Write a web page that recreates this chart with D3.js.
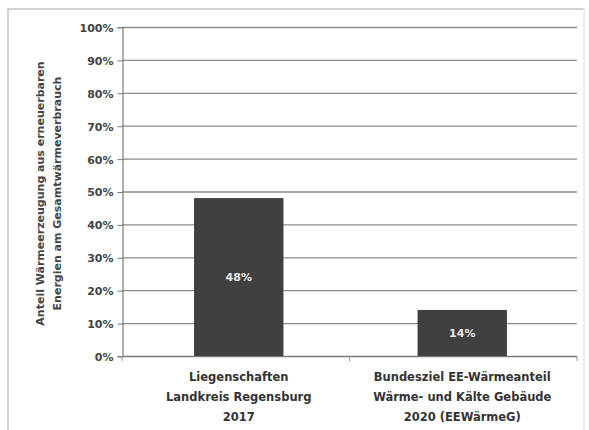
<!DOCTYPE html>
<html><head><meta charset="utf-8">
<script src="https://cdn.jsdelivr.net/npm/d3@7"></script>
<style>body{margin:0;background:#fff;} svg{display:block;}</style>
</head><body>
<svg id="c" width="589" height="430"></svg>
<script>
const categories = [
  ["Liegenschaften", "Landkreis Regensburg", "2017"],
  ["Bundesziel EE-Wärmeanteil", "Wärme- und Kälte Gebäude", "2020 (EEWärmeG)"]
];
const values = [0.48, 0.14];
const valueLabels = ["48%", "14%"];
const yTicks = [0,0.1,0.2,0.3,0.4,0.5,0.6,0.7,0.8,0.9,1.0];
const yTitle = ["Anteil Wärmeerzeugung aus erneuerbaren", "Energien am Gesamtwärmeverbrauch"];

const svg = d3.select("#c");
const font = "'DejaVu Sans', sans-serif";
const L = 122, R = 577, T = 27, B = 356;

svg.append("rect").attr("x",8).attr("y",9).attr("width",576).attr("height",440)
  .attr("fill","#fff").attr("stroke","#c4c4c4").attr("stroke-width",1.5);
svg.append("line").attr("x1",584).attr("x2",584).attr("y1",9).attr("y2",430).attr("stroke","#ececec").attr("stroke-width",2);

const x = d3.scaleBand().domain(d3.range(categories.length)).range([127,574]).paddingInner(0.6).paddingOuter(0.3);
const y = d3.scaleLinear().domain([0,1]).range([B,T]);

// gridlines
svg.append("g").selectAll("line").data(yTicks.filter(d=>d>0)).join("line")
  .attr("x1",L).attr("x2",R).attr("y1",d=>y(d)+0.5).attr("y2",d=>y(d)+0.5)
  .attr("stroke","#8c8c8c").attr("stroke-width",1.3);

// y axis
const ya = svg.append("g").attr("transform",`translate(${L+0.5},0)`)
  .call(d3.axisLeft(y).tickValues(yTicks).tickFormat(d3.format(".0%")).tickSize(5).tickPadding(4));
ya.select(".domain").attr("stroke","#7a7a7a").attr("stroke-width",1.2);
ya.selectAll(".tick line").attr("stroke","#7a7a7a").attr("transform","translate(0,0.5)");
ya.selectAll("text").attr("font-family",font).attr("font-size",11).attr("font-weight","bold").attr("fill","#444").attr("dy","0.4em");

// x axis
svg.append("line").attr("x1",L).attr("x2",R).attr("y1",B+0.5).attr("y2",B+0.5).attr("stroke","#7a7a7a").attr("stroke-width",1.3);
svg.append("g").selectAll("line").data([L,(L+R)/2,R]).join("line")
  .attr("x1",d=>d).attr("x2",d=>d)
  .attr("y1",B).attr("y2",B+5).attr("stroke","#999");

// bars
svg.append("g").selectAll("rect").data(values).join("rect")
  .attr("x",(d,i)=>x(i)).attr("width",x.bandwidth())
  .attr("y",d=>y(d)).attr("height",d=>B-y(d)).attr("fill","#404040");

svg.append("g").selectAll("text").data(values).join("text")
  .attr("x",(d,i)=>x(i)+x.bandwidth()/2).attr("y",d=>(y(d)+B)/2+4)
  .attr("text-anchor","middle").attr("font-family",font).attr("font-size",11).attr("font-weight","bold")
  .attr("fill","#e8e8e8").text((d,i)=>valueLabels[i]);

// category labels
categories.forEach((lines,i)=>{
  const cx = x(i)+x.bandwidth()/2;
  lines.forEach((t,j)=>{
    svg.append("text").attr("x",cx).attr("y",381+j*20).attr("text-anchor","middle")
      .attr("font-family",font).attr("font-size",11.5).attr("font-weight","bold").attr("fill","#333").text(t);
  });
});

// y title
const g = svg.append("g").attr("transform",`translate(0,${(T+B)/2 + 2}) rotate(-90)`);
yTitle.forEach((t,j)=>{
  g.append("text").attr("x",0).attr("y",44+j*17).attr("text-anchor","middle")
   .attr("font-family",font).attr("font-size",11).attr("font-weight","bold").attr("fill","#444").text(t);
});
</script>
</body></html>
